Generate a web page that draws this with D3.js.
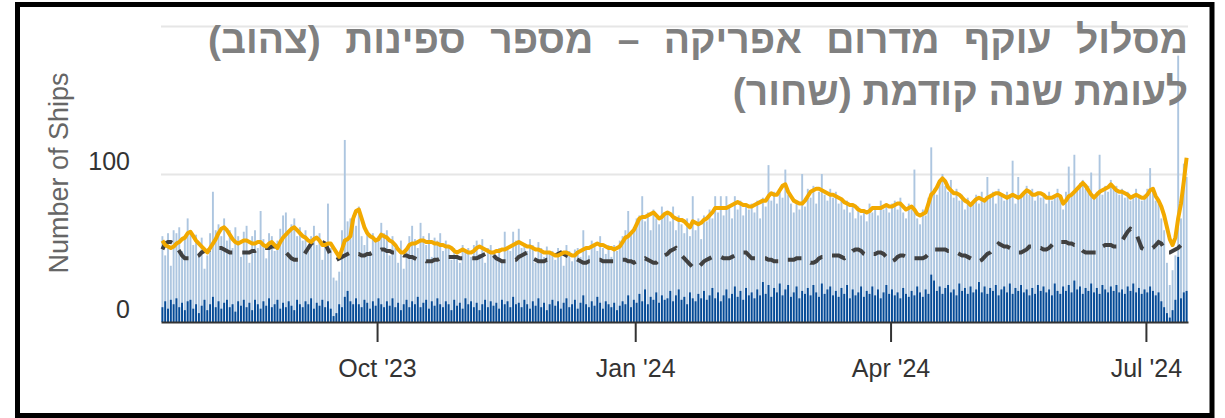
<!DOCTYPE html>
<html>
<head>
<meta charset="utf-8">
<script src="https://cdn.jsdelivr.net/npm/d3@7"></script>
<style>
  body { margin: 0; background: #fff; }
  svg { display: block; }
</style>
</head>
<body>
<div id="chart"></div>
<script>
// daily values, first day 16 Jul 2023
var firstDay = "2023-07-16";

var totalShips = [
  58,45,60,38,62,60,64,48,58,70, 62,52,59,46,57,36,45,60,88,62,
  66,58,70,55,62,50,64,58,44,61, 65,40,58,62,50,75,56,43,60,58,
  48,55,63,72,74,60,66,70,58,64, 55,62,48,58,65,52,60,42,54,80,
  50,30,28,34,62,123,68,70,72,65, 78,58,52,62,48,60,55,58,67,60,
  62,45,58,50,40,55,36,50,58,65, 56,50,67,58,52,60,44,57,55,60,
  48,55,52,42,50,45,40,52,48,50, 44,52,55,46,56,40,50,52,47,45,
  50,42,61,50,48,61,55,63,50,53, 48,56,52,40,54,50,44,51,46,48,
  42,50,46,38,52,48,41,49,50,44, 62,50,45,55,52,48,58,50,46,52,
  44,52,48,55,58,62,75,60,64,70, 72,85,68,74,62,76,70,66,78,72,
  75,68,78,62,72,66,60,70,58,85, 62,70,56,72,68,76,70,85,74,85,
  72,85,78,70,85,76,82,72,80,76, 80,74,82,70,84,78,106,82,88,80,
  90,84,103,86,80,74,82,76,100,78, 90,84,92,80,88,100,86,82,90,84,
  88,80,84,76,82,74,80,70,78,72, 76,68,80,74,78,72,82,76,80,74,
  80,82,76,84,74,70,80,76,103,70, 66,76,72,84,118,90,86,94,100,92,
  88,96,84,90,82,86,76,84,78,80, 86,80,88,82,98,84,88,80,90,86,
  82,88,84,109,80,98,84,88,92,86, 90,82,88,84,86,80,88,82,86,90,
  84,76,88,105,86,113,90,94,96,90, 92,101,84,88,113,86,92,88,96,90,
  92,86,90,84,88,82,86,90,84,82, 86,90,104,88,82,80,70,62,40,25,
  35,45,180,70,107,98
];

var darkShips = [
  10,14,9,15,12,16,10,13,8,14, 15,9,12,6,11,15,8,12,17,10,
  14,9,13,15,10,12,7,14,11,15, 10,13,8,15,12,9,14,11,16,10,
  12,15,9,13,10,14,11,8,15,12, 10,14,12,16,9,13,11,15,10,14,
  9,4,6,12,10,17,21,14,12,16, 12,10,15,13,9,14,11,16,12,10,
  14,11,16,10,13,8,12,15,10,14, 12,17,10,13,15,9,14,11,16,12,
  10,14,12,8,15,11,13,9,16,12, 14,10,13,8,12,15,10,14,11,13,
  9,15,12,14,10,17,12,13,10,15, 12,9,14,11,16,10,13,8,12,15,
  11,14,9,13,16,10,12,15,9,13, 18,12,10,14,11,17,13,9,14,12,
  10,13,8,11,14,12,18,10,15,13, 19,14,22,12,17,15,20,13,18,15,
  16,21,14,18,22,15,17,12,20,16, 14,19,16,21,15,18,23,16,20,14,
  18,22,16,19,24,17,21,15,23,18, 20,16,22,18,27,19,25,17,23,20,
  26,18,22,25,17,20,24,16,21,19, 23,18,25,20,17,26,19,22,24,18,
  21,17,23,19,25,16,22,18,20,24, 17,21,19,24,18,22,16,20,25,19,
  22,18,20,16,23,19,17,21,18,24, 20,17,22,19,32,28,21,24,19,23,
  25,20,22,18,26,21,23,19,24,20, 22,27,20,24,19,23,21,25,18,22,
  24,20,26,19,23,21,25,20,22,18, 23,19,25,21,24,20,22,18,26,21,
  19,24,21,25,20,28,22,24,19,23, 21,26,20,23,19,25,22,20,24,21,
  25,20,22,19,24,21,26,20,23,19, 22,20,24,21,18,20,14,10,6,3,
  8,15,44,16,20,21
];

// yellow line
var avgShips = [
  55,52,51,50,51,53,54,56,57,60, 61,58,55,53,51,49,47,50,53,56,
  60,63,64,62,59,56,54,53,54,55, 55,54,53,53,54,54,52,51,53,54,
  52,50,54,57,59,61,63,64,62,60, 58,57,55,54,56,57,55,52,52,53,
  53,50,47,44,49,55,56,58,70,75, 76,70,64,60,58,57,55,56,59,58,
  57,55,54,52,49,47,47,49,52,53, 53,54,55,55,54,54,54,53,53,52,
  52,51,51,50,48,47,48,49,48,47, 47,48,50,51,50,49,48,47,47,48,
  48,49,49,50,51,52,53,54,53,52, 51,51,50,49,49,48,47,47,47,46,
  45,45,46,47,47,46,45,45,47,48, 49,50,50,51,52,53,52,52,51,50,
  50,49,50,51,54,57,58,60,62,66, 70,71,71,72,73,74,72,70,71,73,
  74,73,71,70,69,69,68,66,64,68, 67,66,67,69,70,72,74,77,77,77,
  77,77,78,79,80,81,80,79,79,78, 78,79,80,81,82,82,85,87,86,86,
  89,92,93,88,85,82,81,80,80,82, 85,88,89,90,90,89,88,87,86,86,
  85,84,83,81,80,79,79,78,76,75, 75,74,75,77,77,77,77,78,79,78,
  78,79,80,80,78,76,77,78,76,73, 72,73,74,80,86,88,91,95,97,95,
  91,89,87,87,86,84,82,81,79,81, 83,84,83,82,84,85,86,87,87,86,
  85,84,85,86,85,84,85,87,89,88, 86,86,87,87,86,84,84,84,85,86,
  85,80,82,85,86,88,90,92,94,92, 89,86,84,86,88,89,90,91,93,91,
  89,88,88,87,86,84,85,86,85,84, 84,86,89,90,85,82,78,72,64,56,
  52,57,70,80,95,111
];

// dashed line, previous year
var prevYearShips = [
  49,53,54,54,53,51,48,45,43,43, 43,44,44,45,47,48,48,49,49,50,
  50,50,49,48,47,47,47,47,47,47, 47,47,48,48,49,49,50,50,50,51,
  51,51,50,48,47,45,43,42,42,42, 44,47,50,53,54,55,55,54,53,49,
  45,43,42,43,44,45,46,47,47,46, 46,45,45,46,46,47,47,48,49,49,
  48,48,47,47,47,46,45,45,44,44, 43,42,42,42,41,41,41,42,42,43,
  43,44,44,44,44,44,43,43,43,43, 43,43,43,44,45,46,47,47,45,43,
  42,41,41,41,42,42,42,44,45,46, 47,45,43,42,41,41,41,42,42,44,
  45,46,47,46,45,44,44,43,42,41, 40,40,41,41,42,42,42,41,41,41,
  41,41,42,42,42,42,41,41,40,41, 42,42,43,42,41,40,40,42,43,45,
  46,48,49,50,48,45,43,41,39,37, 36,37,39,41,42,43,44,44,44,44,
  43,43,43,44,45,46,47,47,47,45, 43,43,43,43,43,43,42,42,41,41,
  41,41,42,42,42,42,43,43,43,42, 41,40,40,41,43,44,44,44,45,45,
  45,45,44,43,44,46,48,49,49,48, 46,45,45,46,46,47,47,46,44,41,
  41,42,44,45,45,44,44,43,43,43, 43,43,44,46,48,49,49,49,49,49,
  48,48,47,47,46,45,45,44,43,42, 41,41,42,44,46,47,49,51,53,52,
  51,51,50,49,48,47,47,48,49,51, 51,51,50,50,49,49,50,52,54,54,
  54,54,54,53,53,52,52,50,48,47, 47,47,47,47,49,51,52,52,52,51,
  51,52,55,58,61,63,62,60,55,50, 49,49,49,50,52,54,53,50,47,47,
  48,49,50,52,54,55
];

var yLabelValues = [0, 100];
var gridValues = [100, 200];
var xTickDates = ["2023-10-01", "2024-01-01", "2024-04-01", "2024-07-01"];
var xTickLabels = ["Oct '23", "Jan '24", "Apr '24", "Jul '24"];
var yTitle = "Number of Ships";
var titleLines = [
  "מסלול עוקף מדרום אפריקה – מספר ספינות (צהוב)",
  "לעומת שנה קודמת (שחור)"
];

var W = 1225, H = 418;
var plotLeft = 161, plotRight = 1188, plotTop = 26, plotBottom = 322;
var font = "'Liberation Sans', Arial, sans-serif";

var parse = d3.timeParse("%Y-%m-%d");
var start = parse(firstDay);
var days = totalShips.map(function(v, i) { return d3.timeDay.offset(start, i); });

var x = d3.scaleTime()
    .domain([start, d3.timeDay.offset(start, totalShips.length)])
    .range([plotLeft, plotRight]);
var step = (plotRight - plotLeft) / totalShips.length;

var y = d3.scaleLinear()
    .domain([0, 200])
    .range([plotBottom, plotTop]);

var svg = d3.select('#chart').append('svg')
    .attr('width', W)
    .attr('height', H);

// grid
svg.append('g')
    .attr('transform', 'translate(' + plotLeft + ',0)')
    .call(d3.axisLeft(y).tickValues(gridValues).tickSize(-(plotRight - plotLeft)).tickFormat(''))
    .call(function(g) {
      g.select('.domain').remove();
      g.selectAll('line').attr('stroke', '#e6e6e6').attr('stroke-width', 2);
    });

// light bars (all ships)
svg.append('g').selectAll('rect')
    .data(totalShips)
    .enter()
    .append('rect')
      .attr('x', function(d, i) { return x(days[i]) + 0.45; })
      .attr('y', function(d) { return y(d); })
      .attr('width', step - 0.9)
      .attr('height', function(d) { return plotBottom - y(d); })
      .attr('fill', '#adc6e0');

// dark bars
svg.append('g').selectAll('rect')
    .data(darkShips)
    .enter()
    .append('rect')
      .attr('x', function(d, i) { return x(days[i]) + 0.45; })
      .attr('y', function(d) { return y(d); })
      .attr('width', step - 0.9)
      .attr('height', function(d) { return plotBottom - y(d); })
      .attr('fill', '#054a96');

var line = d3.line()
    .x(function(d, i) { return x(days[i]) + step / 2; })
    .y(function(d) { return y(d); });

svg.append('path')
    .datum(prevYearShips)
    .attr('d', line)
    .attr('fill', 'none')
    .attr('stroke', '#404040')
    .attr('stroke-width', 4)
    .attr('stroke-dasharray', '14,10');

svg.append('path')
    .datum(avgShips)
    .attr('d', line)
    .attr('fill', 'none')
    .attr('stroke', '#f2a900')
    .attr('stroke-width', 4)
    .attr('stroke-linejoin', 'round');

// x axis
svg.append('g')
    .attr('transform', 'translate(0,' + plotBottom + ')')
    .call(d3.axisBottom(x)
        .tickValues(xTickDates.map(parse))
        .tickFormat(function(d, i) { return xTickLabels[i]; })
        .tickSize(20)
        .tickSizeOuter(0)
        .tickPadding(17))
    .call(function(g) {
      g.select('.domain').attr('stroke', '#333').attr('stroke-width', 2);
      g.selectAll('.tick line').attr('stroke', '#333').attr('stroke-width', 2);
      g.selectAll('text')
        .attr('fill', '#333')
        .attr('font-family', font)
        .attr('font-size', 25);
    });

// y labels
svg.append('g')
    .attr('transform', 'translate(' + plotLeft + ',0)')
    .call(d3.axisLeft(y).tickValues(yLabelValues).tickSize(0).tickPadding(31))
    .call(function(g) {
      g.select('.domain').remove();
      g.selectAll('text')
        .attr('dy', '-0.2em')
        .attr('fill', '#333')
        .attr('font-family', font)
        .attr('font-size', 25);
    });

svg.append('text')
    .attr('transform', 'translate(68,173) rotate(-90)')
    .attr('text-anchor', 'middle')
    .attr('fill', '#666')
    .attr('font-family', font)
    .attr('font-size', 27)
    .text(yTitle);

// title, first line justified
var titleBase = [53, 105];
titleLines.forEach(function(t, i) {
  var el = svg.append('text')
      .attr('x', plotRight)
      .attr('y', titleBase[i])
      .attr('direction', 'rtl')
      .attr('text-anchor', 'start')
      .attr('font-family', font)
      .attr('font-weight', 'bold')
      .attr('font-size', 39)
      .attr('fill', '#808080')
      .text(t);
  if (i === 0) {
    var w = el.node().getComputedTextLength();
    var gaps = t.split(' ').length - 1;
    el.style('word-spacing', ((980 - w) / gaps) + 'px');
  }
});

// frame
svg.append('rect')
    .attr('x', 17.5)
    .attr('y', 4.5)
    .attr('width', 1194.5)
    .attr('height', 411)
    .attr('fill', 'none')
    .attr('stroke', '#000')
    .attr('stroke-width', 5);
</script>
</body>
</html>
